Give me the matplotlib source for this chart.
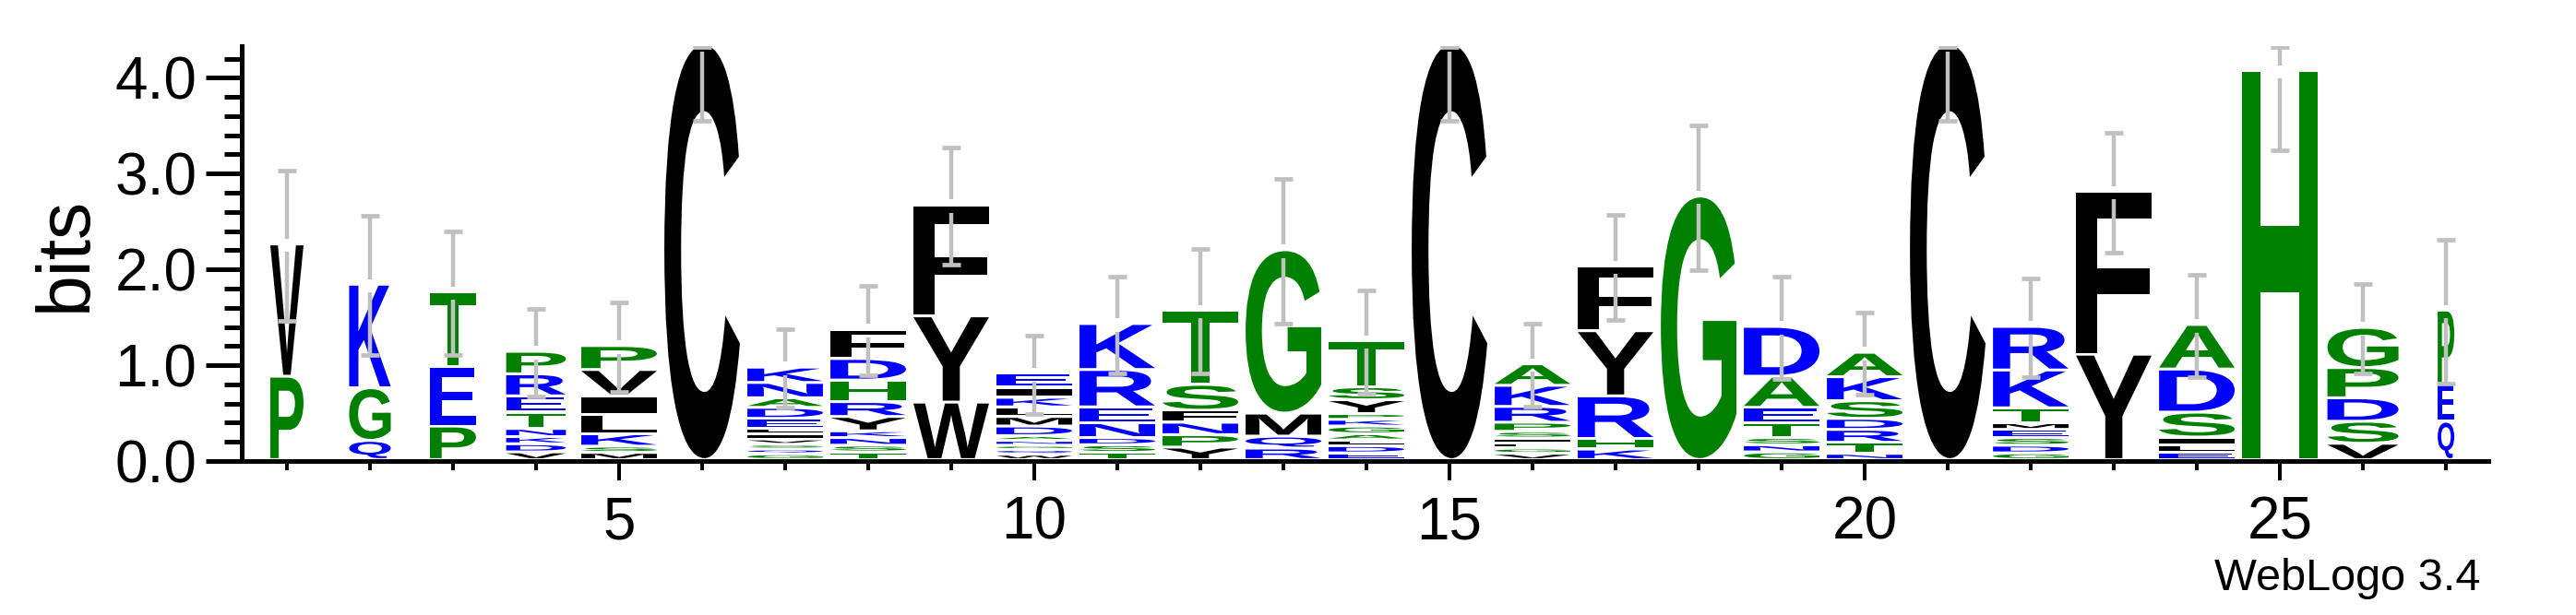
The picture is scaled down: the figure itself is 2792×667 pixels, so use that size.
import matplotlib
matplotlib.use("Agg")
import matplotlib.pyplot as plt
from matplotlib.textpath import TextPath
from matplotlib.patches import PathPatch
from matplotlib.font_manager import FontProperties
from matplotlib.transforms import Affine2D
from matplotlib.ticker import MultipleLocator, FixedLocator, FormatStrFormatter

# sequence logo data, stacks listed bottom -> top
positions = list(range(1, 28))
stack_letters = [
    "PV", "QGK", "PET", "VDKNTERP", "MSKLIVP", "C", "GQSVILEDANK",
    "TSNKYRHDF", "WYF", "WQGNADMLKIE", "TSDNERK", "YPNFST", "RQMG",
    "EDLAGKPYST", "C", "VGLISPRKA", "KHRYF", "G", "GNSTEAD",
    "NTRDSKA", "C", "GDSEMTKR", "YF", "ELISDA", "H", "VSDPG", "QEP",
]
stack_heights = [
    [0.87, 1.38],
    [0.20, 0.55, 1.08],
    [0.35, 0.62, 0.78],
    [0.08, 0.085, 0.075, 0.085, 0.17, 0.17, 0.23, 0.235],
    [0.075, 0.065, 0.13, 0.20, 0.195, 0.275, 0.25],
    [4.34],
    [0.06, 0.05, 0.05, 0.055, 0.055, 0.055, 0.105, 0.115, 0.10, 0.16, 0.16],
    [0.08, 0.07, 0.08, 0.07, 0.15, 0.155, 0.225, 0.225, 0.305],
    [0.60, 0.90, 1.16],
    [0.055, 0.05, 0.045, 0.05, 0.05, 0.10, 0.10, 0.10, 0.10, 0.105, 0.145],
    [0.075, 0.08, 0.075, 0.155, 0.165, 0.39, 0.48],
    [0.13, 0.13, 0.13, 0.125, 0.27, 0.775],
    [0.12, 0.125, 0.24, 1.705],
    [0.07, 0.075, 0.06, 0.065, 0.08, 0.07, 0.06, 0.145, 0.135, 0.48],
    [4.34],
    [0.065, 0.055, 0.05, 0.055, 0.07, 0.095, 0.165, 0.22, 0.225],
    [0.11, 0.11, 0.445, 0.68, 0.675],
    [2.75],
    [0.08, 0.075, 0.075, 0.155, 0.16, 0.325, 0.52],
    [0.065, 0.115, 0.135, 0.115, 0.185, 0.25, 0.255],
    [4.34],
    [0.07, 0.08, 0.08, 0.085, 0.07, 0.155, 0.395, 0.455],
    [1.10, 1.70],
    [0.075, 0.08, 0.08, 0.26, 0.45, 0.465],
    [4.06],
    [0.17, 0.23, 0.245, 0.315, 0.42],
    [0.40, 0.39, 0.77],
]
# relative column width (fraction of sequences present)
col_width = [0.44, 0.55, 0.61, 0.79] + [1.0] * 21 + [0.94, 0.22]
# +/- error around the stack top
err_bits = [0.785, 0.725, 0.645, 0.455, 0.465, 0.79, 0.41, 0.465, 0.615, 0.41,
            0.505, 0.65, 0.755, 0.54, 0.79, 0.435, 0.545, 0.755, 0.53, 0.43,
            0.79, 0.515, 0.63, 0.535, 0.82, 0.47, 0.75]
max_bits = 4.32

colors = {}
for aa in "RKDENQ":
    colors[aa] = "#0000ff"
for aa in "SGHTAP":
    colors[aa] = "#008000"
for aa in "YVMCLFIW":
    colors[aa] = "#000000"

W, H = 2792, 667
fig = plt.figure(figsize=(W / 100, H / 100), dpi=100)
ax = fig.add_axes([262 / W, 167 / H, 2435 / W, 450 / H])
ax.set_xlim(0.456, 27.51)
ax.set_ylim(0, 4.33)

glyph_font = FontProperties(family="Liberation Sans", weight="bold")
full_w = 0.91
pad = 0.03


def draw_letter(ch, xc, y0, w, h, color):
    tp = TextPath((0, 0), ch, size=1, prop=glyph_font)
    bb = tp.get_extents()
    tr = (Affine2D().translate(-bb.x0, -bb.y0)
          .scale(w / bb.width, h / bb.height)
          .translate(xc - w / 2, y0))
    ax.add_patch(PathPatch(tr.transform_path(tp), fc=color, ec="none", lw=0, zorder=1))


for pos, lets, hs, cw, e in zip(positions, stack_letters, stack_heights, col_width, err_bits):
    y = 0.0
    w = full_w * cw
    for ch, h in zip(lets, hs):
        ink = max(h - pad, 0.012)
        draw_letter(ch, pos, y + h - ink, w, ink, colors[ch])
        y += h
    lo = y - e
    hi = min(y + e, max_bits)
    gc = "#c0c0c0"
    gap = 0.07
    if hi > y + gap:
        ax.plot([pos, pos], [y + gap, hi], color=gc, lw=3.2, zorder=3, solid_capstyle="butt")
    ax.plot([pos, pos], [lo, y - gap], color=gc, lw=3.2, zorder=3, solid_capstyle="butt")
    for yy in (lo, hi):
        ax.plot([pos - 0.11, pos + 0.11], [yy, yy], color=gc, lw=3.4, zorder=3,
                solid_capstyle="butt")

for s in ("top", "right"):
    ax.spines[s].set_visible(False)
for s in ("left", "bottom"):
    ax.spines[s].set_linewidth(3.6)
    ax.spines[s].set_zorder(4)

tick_font = "Liberation Sans"
ax.yaxis.set_major_locator(MultipleLocator(1.0))
ax.yaxis.set_minor_locator(FixedLocator([v / 5 for v in range(0, 22)]))
ax.yaxis.set_major_formatter(FormatStrFormatter("%.1f"))
ax.xaxis.set_major_locator(FixedLocator([5, 10, 15, 20, 25]))
ax.xaxis.set_minor_locator(FixedLocator(positions))
ax.tick_params(axis="y", which="major", length=28, width=3.6, pad=7, labelsize=46)
ax.tick_params(axis="y", which="minor", length=14, width=3.6)
ax.tick_params(axis="x", which="major", length=15, width=2.9, pad=12, labelsize=46)
ax.tick_params(axis="x", which="minor", length=7.5, width=2.9)
for lab in ax.get_xticklabels() + ax.get_yticklabels():
    lab.set_fontfamily(tick_font)

fig.text(72 / W, 1 - 275 / H, "bits", rotation=90, ha="center", va="center",
         fontsize=58, family=tick_font)
fig.text(2688 / W, 1 - 640 / H, "WebLogo 3.4", ha="right", va="baseline",
         fontsize=35, family=tick_font)

fig.savefig("out.png", dpi=100, facecolor="white")
